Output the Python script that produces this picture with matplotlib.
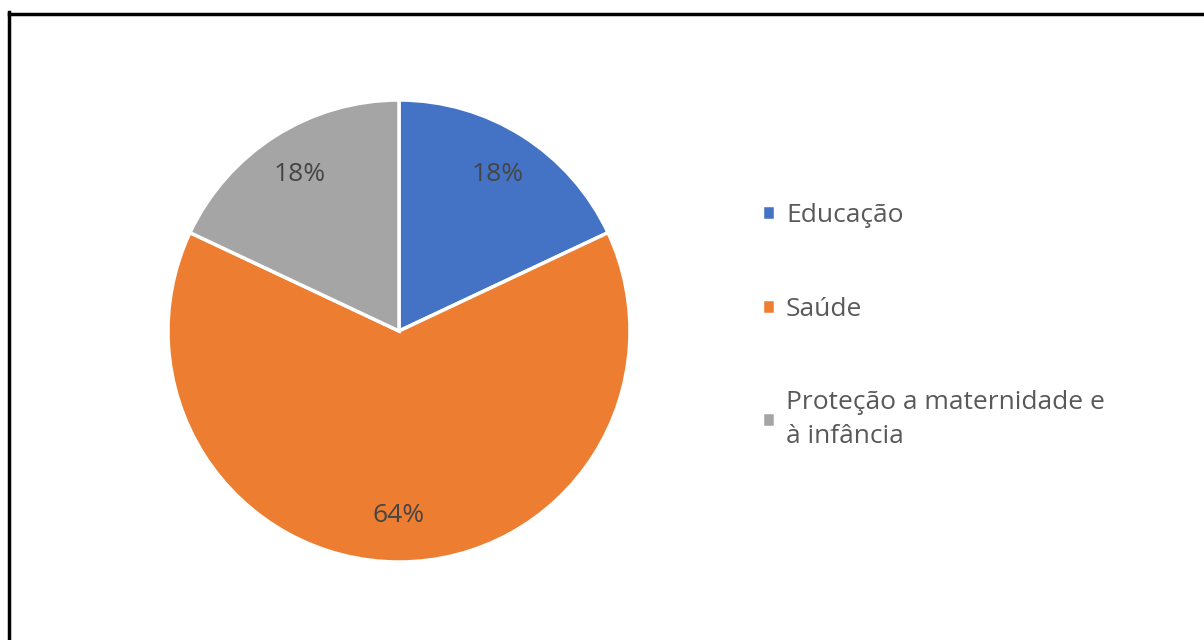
import matplotlib.pyplot as plt

# dados
categorias = ['Educação', 'Saúde', 'Proteção a maternidade e\nà infância']
valores = [18, 64, 18]
cores = ['#4472C4', '#ED7D31', '#A5A5A5']

plt.rcParams['font.family'] = ['Open Sans', 'DejaVu Sans']
texto = '#595959'

W, H = 1204, 640
fig = plt.figure(figsize=(W / 100, H / 100), dpi=100)

# moldura (só em cima e à esquerda, como na imagem)
fig.add_artist(plt.Line2D([8.5 / W, 8.5 / W], [0, 1 - 12 / H], color='black', lw=2.5))
fig.add_artist(plt.Line2D([8.5 / W, 1], [1 - 13.5 / H, 1 - 13.5 / H], color='black', lw=2.5))

# eixo do gráfico de pizza
cx, cy, r = 399, 331, 231
ax = fig.add_axes([(cx - r) / W, 1 - (cy + r) / H, 2 * r / W, 2 * r / H])
fatias, rotulos, pcts = ax.pie(
    valores, colors=cores, startangle=90, counterclock=False,
    autopct='%1.0f%%', pctdistance=0.8,
    wedgeprops=dict(edgecolor='white', linewidth=2.5),
    textprops=dict(color='#454545', fontsize=19))
ax.set_xlim(-1, 1)
ax.set_ylim(-1, 1)
ax.set_aspect('equal')

leg = fig.legend(fatias, categorias, loc='upper left',
                 bbox_to_anchor=(749 / W, 1 - 190 / H), frameon=False,
                 borderpad=0, fontsize=19, labelcolor=texto,
                 handlelength=0.5, handleheight=0.5, handletextpad=0.4,
                 labelspacing=2.6)
for t in leg.get_texts():
    t.set_linespacing(1.45)

fig.savefig('out.png', dpi=100, facecolor='white')
